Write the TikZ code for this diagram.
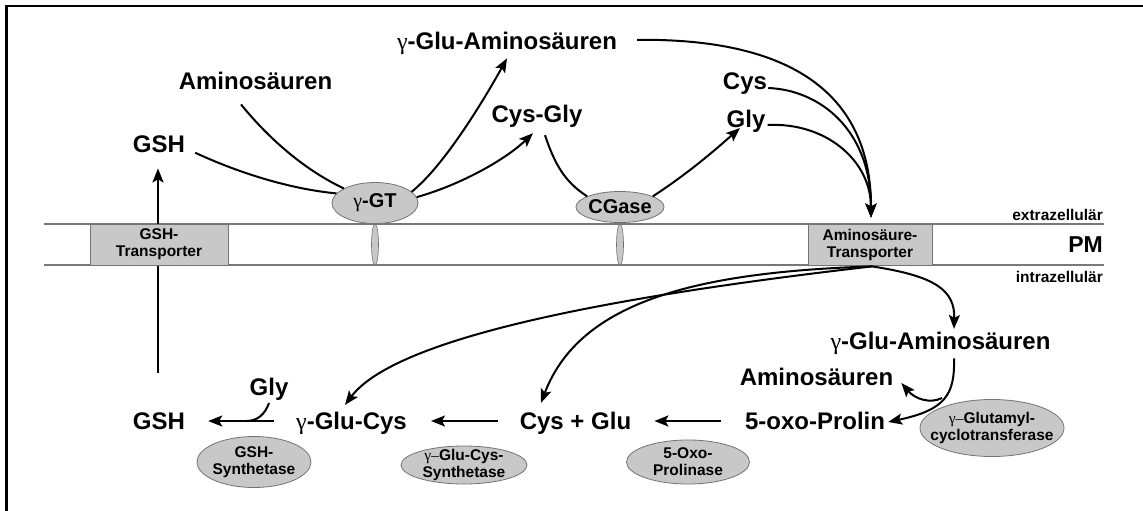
\documentclass[tikz,border=0pt]{standalone}
\usepackage{fontspec}
\setmainfont{Liberation Sans}
\newfontfamily\gk{Liberation Serif}
\usetikzlibrary{arrows.meta,calc,shapes.geometric}
\definecolor{fillg}{RGB}{200,200,200}
\definecolor{edgeg}{RGB}{115,115,115}
\definecolor{memg}{RGB}{120,120,120}
\newcommand{\gam}{{\gk\mdseries γ}}
\newcommand{\gamd}{{\gk\mdseries γ–}}
\begin{document}
\begin{tikzpicture}[x=1pt,y=-1pt,
  lbl/.style={font=\fontsize{24}{28}\selectfont\bfseries, inner sep=0pt, anchor=base},
  sml/.style={font=\fontsize{15.5}{17}\selectfont\bfseries, inner sep=0pt, align=center},
  mid/.style={font=\fontsize{20}{24}\selectfont\bfseries, inner sep=0pt},
  enz/.style={ellipse, draw=edgeg, fill=fillg, line width=0.8pt, inner sep=0pt},
  pin/.style={ellipse, draw=edgeg, fill=fillg, line width=0.6pt, inner sep=0pt, minimum width=7pt, minimum height=41pt},
  tbox/.style={rectangle, draw=edgeg, fill=fillg, line width=0.8pt, inner sep=0pt, minimum height=41pt, sml},
  con/.style={line width=2pt, black},
  arr/.style={con, -{Stealth[length=14pt,width=11pt,inset=3pt]}}]
\useasboundingbox (0,0) rectangle (1143,511);
% frame
\draw[line width=2.4pt] (6.5,511) -- (6.5,6) -- (1143,6);
% membrane
\draw[memg, line width=1.5pt] (44,224) -- (1104,224);
\draw[memg, line width=1.5pt] (44,265) -- (1104,265);

% GSH export
\node[lbl] (gshB) at (159,429) {GSH};
\node[lbl] (gshT) at (159,152) {GSH};
\draw[arr] ($(gshB.north)+(-1,-39)$) -- ($(gshT.south)+(-1,16)$);

% transporters
\node[tbox, minimum width=138pt] (gsht) at (159,244.5) {GSH-\\Transporter};
\node[tbox, minimum width=124pt] (aat) at (870,244.5) {Aminosäure-\\Transporter};
\node[pin] (pin1) at (375,244.5) {};
\node[pin] (pin2) at (620,244.5) {};

% extracellular enzymes
\node[enz, minimum width=86pt, minimum height=41pt, label={[mid]center:\gam-GT}] (gt) at (375,203) {};
\node[enz, minimum width=88pt, minimum height=31pt, label={[mid]center:CGase}] (cg) at (620,207) {};

% top labels
\node[lbl] (aminoT) at (255.5,89) {Aminosäuren};
\node[lbl] (gluT) at (507,49) {\gam-Glu-Aminosäuren};
\node[lbl] (cysglyT) at (537,122) {Cys-Gly};
\node[lbl] (cysT) at (745,89) {Cys};
\node[lbl] (glyT) at (746,127) {Gly};

% side labels
\node[sml, anchor=base east] (extra) at (1103,220) {extrazellulär};
\node[font=\fontsize{23}{27}\selectfont\bfseries, inner sep=0pt, anchor=base east] (pm) at (1103,252) {PM};
\node[sml, anchor=base east] (intra) at (1103,282) {intrazellulär};

% top connectors
\draw[con] ($(gshT.east)+(10,9)$) .. controls (250,178) and (300,190) .. (gt.166);
\draw[con] ($(aminoT.south)+(-14.5,15)$) .. controls (270,140) and (305,170) .. (gt.155);
\draw[arr] (gt.17) .. controls (445,165) and (485,98) .. ($(gluT.south)+(0,4)$);
\draw[arr] (gt.8) .. controls (460,185) and (505,160) .. ($(cysglyT.south)+(-4,6)$);
\draw[con] ($(cysglyT.south)+(8,8)$) .. controls (555,165) and (565,182) .. (cg.162);
\draw[arr] (cg.18) .. controls (690,172) and (715,150) .. ($(glyT.base)+(-6,1)$);

\coordinate (aatin) at ($(aat.north)+(1,-6)$);
\draw[arr] ($(gluT.east)+(20,-3)$) .. controls (800,38) and (871,100) .. (aatin);
\draw[arr] ($(cysT.base east)+(1,-1)$) .. controls (820,90) and (871,130) .. (aatin);
\draw[arr] ($(glyT.base east)+(2,-2)$) .. controls (825,122) and (871,160) .. (aatin);

% bottom labels
\node[lbl] (glyB) at (269,395) {Gly};
\node[lbl] (glucysB) at (351.5,429) {\gam-Glu-Cys};
\node[lbl] (cysgluB) at (575.5,429) {Cys + Glu};
\node[lbl] (oxoB) at (815,429) {5-oxo-Prolin};
\node[lbl] (aminoB) at (816.5,385) {Aminosäuren};
\node[lbl] (gluB) at (940.5,349) {\gam-Glu-Aminosäuren};

% bottom enzymes
\node[enz, minimum width=114pt, minimum height=51pt, label={[sml]center:GSH-\\Synthetase}] (gsyn) at (254,462) {};
\node[enz, minimum width=126pt, minimum height=38pt, label={[sml]center:\gamd Glu-Cys-\\Synthetase}] (gcsyn) at (464,465) {};
\node[enz, minimum width=123pt, minimum height=44pt, label={[sml]center:5-Oxo-\\Prolinase}] (oxop) at (688,462) {};
\node[enz, minimum width=144pt, minimum height=57pt, label={[sml]center:\gamd Glutamyl-\\cyclotransferase}] (gcyc) at (992,428) {};

% intracellular connectors
\draw[arr] ($(aat.south)+(2,1)$) .. controls (650,292) and (400,332) .. ($(glucysB.north)+(-6.5,-6.5)$);
\draw[arr] ($(aat.south)+(2,1)$) .. controls (700,272) and (580,300) .. ($(cysgluB.north)+(-34.5,-8.5)$);
\draw[arr] ($(aat.south)+(2,1)$) .. controls (935,276) and (955,290) .. ($(gluB.north)+(13.5,-2.5)$);

% synthesis chain
\draw[arr] ($(glucysB.base west)+(-22,-8)$) -- ($(gshB.base east)+(23,-8)$);
\coordinate (gmeet) at (246,421);
\draw[con] ($(glyB.base)+(0,8)$) .. controls (265,414) and (258,421) .. (gmeet);
\draw[arr] ($(cysgluB.base west)+(-22,-8)$) -- ($(glucysB.base east)+(24,-8)$);
\draw[arr] ($(oxoB.base west)+(-24,-8)$) -- ($(cysgluB.base east)+(23,-8)$);

% cyclotransferase
\draw[arr] ($(gluB.south)+(13.5,4)$) .. controls (955,395) and (945,410) .. ($(oxoB.base east)+(3,-7)$);
\coordinate (br) at (942,398);
\draw[arr] (br) .. controls (930,404) and (915,399) .. ($(aminoB.base east)+(8,-2)$);
\end{tikzpicture}
\end{document}
